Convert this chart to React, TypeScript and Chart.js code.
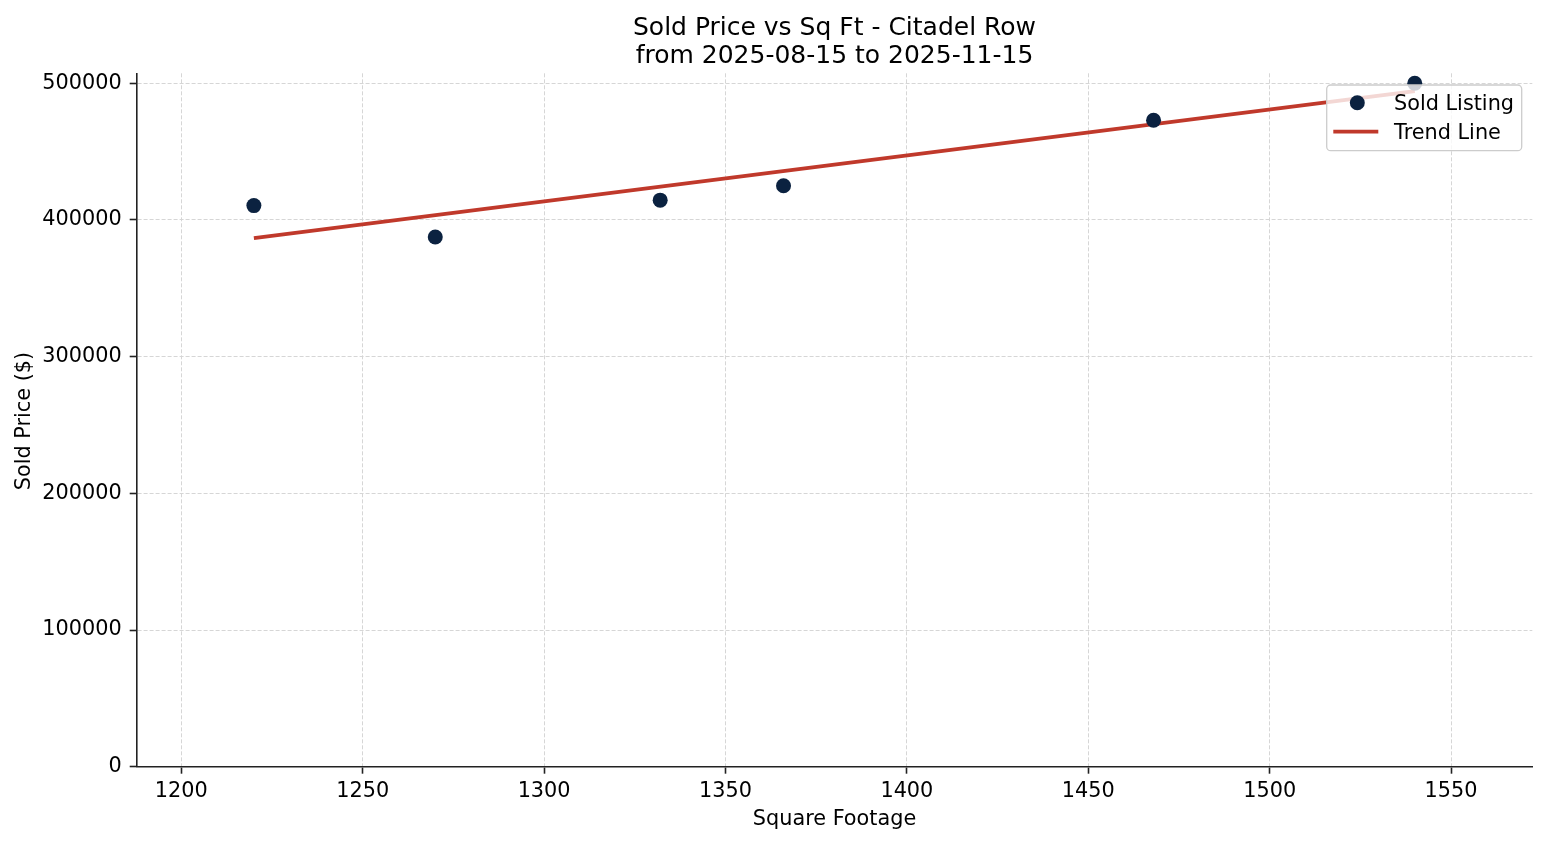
import React, { useEffect, useRef } from 'react';
import { Chart, registerables } from 'chart.js';

Chart.register(...registerables);

// sold listings (square footage, sold price)
const sqFt = [1220, 1270, 1332, 1366, 1468, 1540];
const soldPrice = [410500, 387500, 414500, 425000, 473000, 500000];

// trend line end points
const trendSqFt = [1220, 1540];
const trendPrice = [386700, 494200];

const xTicks = [1200, 1250, 1300, 1350, 1400, 1450, 1500, 1550];
const yTicks = [0, 100000, 200000, 300000, 400000, 500000];

const TITLE = ['Sold Price vs Sq Ft - Citadel Row', 'from 2025-08-15 to 2025-11-15'];
const X_LABEL = 'Square Footage';
const Y_LABEL = 'Sold Price ($)';

const FONT = '"DejaVu Sans", sans-serif';
const LABEL_SIZE = 20.8;
const TITLE_SIZE = 25;
const NAVY = '#0b2240';
const RED = '#c0392b';
const SPINE = '#222222';
const GRID = '#d6d6d6';

const decor = {
  id: 'decor',
  afterDraw(chart: any) {
    const { ctx, chartArea: area } = chart;
    const cx = (area.left + area.right) / 2;
    ctx.save();
    ctx.fillStyle = '#000';
    ctx.textBaseline = 'alphabetic';

    // title
    ctx.textAlign = 'center';
    ctx.font = `${TITLE_SIZE}px ${FONT}`;
    ctx.fillText(TITLE[0], cx, 35);
    ctx.fillText(TITLE[1], cx, 62.5);

    // axis titles
    ctx.font = `${LABEL_SIZE}px ${FONT}`;
    ctx.fillText(X_LABEL, cx, 825);
    ctx.save();
    ctx.translate(30, (area.top + area.bottom) / 2 + 1);
    ctx.rotate(-Math.PI / 2);
    ctx.fillText(Y_LABEL, 0, 0);
    ctx.restore();

    // legend box, drawn over the data like matplotlib
    const w = 195;
    const h = 65.7;
    const x0 = area.right - 10.6 - w;
    const y0 = area.top + 11.7;
    ctx.beginPath();
    ctx.roundRect(x0, y0, w, h, 4);
    ctx.fillStyle = 'rgba(255,255,255,0.8)';
    ctx.fill();
    ctx.strokeStyle = '#cccccc';
    ctx.lineWidth = 1.3;
    ctx.stroke();

    const ds = chart.data.datasets;
    ctx.beginPath();
    ctx.arc(x0 + 30.6, y0 + 17.7, 7.5, 0, Math.PI * 2);
    ctx.fillStyle = ds[0].backgroundColor;
    ctx.fill();

    ctx.beginPath();
    ctx.moveTo(x0 + 6.6, y0 + 46.7);
    ctx.lineTo(x0 + 51.6, y0 + 46.7);
    ctx.strokeStyle = ds[1].borderColor;
    ctx.lineWidth = ds[1].borderWidth;
    ctx.stroke();

    ctx.fillStyle = '#000';
    ctx.textAlign = 'left';
    ctx.fillText(ds[0].label, x0 + 67.3, y0 + 25);
    ctx.fillText(ds[1].label, x0 + 67.3, y0 + 54);
    ctx.restore();
  },
};

export default function App() {
  const canvasRef = useRef<HTMLCanvasElement | null>(null);
  const chartRef = useRef<Chart | null>(null);

  useEffect(() => {
    if (!canvasRef.current) return;
    const ctx = canvasRef.current.getContext('2d');
    if (!ctx) return;

    const tickFont = { family: FONT, size: LABEL_SIZE };

    chartRef.current = new Chart(ctx, {
      type: 'scatter',
      data: {
        datasets: [
          {
            label: 'Sold Listing',
            data: sqFt.map((x, i) => ({ x, y: soldPrice[i] })),
            backgroundColor: NAVY,
            borderColor: NAVY,
            pointRadius: 7.5,
            pointBorderWidth: 0,
            order: 1,
          },
          {
            type: 'line',
            label: 'Trend Line',
            data: trendSqFt.map((x, i) => ({ x, y: trendPrice[i] })),
            borderColor: RED,
            backgroundColor: RED,
            borderWidth: 3.8,
            pointRadius: 0,
            showLine: true,
            fill: false,
            order: 2,
          },
        ],
      },
      options: {
        responsive: false,
        animation: false,
        layout: { padding: { top: 73.3, right: 14.7, left: 0, bottom: 0 } },
        plugins: {
          legend: { display: false },
          title: { display: false },
          tooltip: { enabled: false },
        },
        scales: {
          x: {
            type: 'linear',
            min: 1187.7,
            max: 1572.4,
            afterFit: (s: any) => {
              s.height = 78.3;
            },
            afterBuildTicks: (s: any) => {
              s.ticks = xTicks.map((v) => ({ value: v }));
            },
            ticks: {
              color: '#000',
              font: tickFont,
              padding: 5,
              maxRotation: 0,
              callback: (v: any) => String(v),
            },
            grid: {
              color: GRID,
              lineWidth: 1,
              tickLength: 7,
              tickColor: SPINE,
              tickWidth: 1.6,
              tickBorderDash: [],
            },
            border: { color: SPINE, width: 1.6, dash: [4, 2] },
          },
          y: {
            type: 'linear',
            min: 0,
            max: 507300,
            afterFit: (s: any) => {
              s.width = 136.7;
            },
            afterBuildTicks: (s: any) => {
              s.ticks = yTicks.map((v) => ({ value: v }));
            },
            ticks: {
              color: '#000',
              font: tickFont,
              padding: 8,
              callback: (v: any) => String(v),
            },
            grid: {
              color: GRID,
              lineWidth: 1,
              tickLength: 7,
              tickColor: SPINE,
              tickWidth: 1.6,
              tickBorderDash: [],
            },
            border: { color: SPINE, width: 1.6, dash: [4, 2] },
          },
        },
      },
      plugins: [decor],
    });

    return () => {
      chartRef.current?.destroy();
      chartRef.current = null;
    };
  }, []);

  return (
    <div style={{ position: 'fixed', left: 0, top: 0, width: 1547, height: 845, background: '#fff' }}>
      <canvas ref={canvasRef} width={1547} height={845} style={{ display: 'block' }} />
    </div>
  );
}
